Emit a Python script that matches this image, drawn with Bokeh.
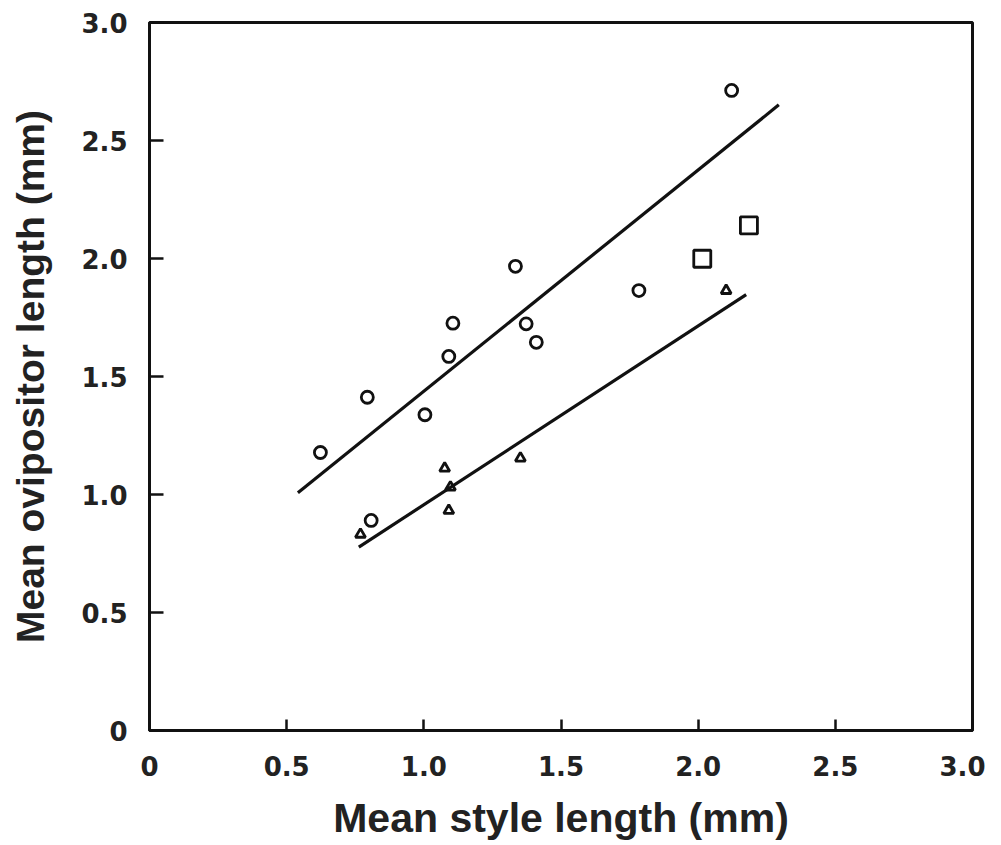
from bokeh.plotting import figure
from bokeh.models import Range1d, FixedTicker
from bokeh.embed import file_html
from bokeh.resources import INLINE

# Data
circle_x = [0.623, 0.794, 0.808, 1.004, 1.091, 1.106, 1.334, 1.373, 1.410, 1.784, 2.122]
circle_y = [1.178, 1.412, 0.890, 1.338, 1.585, 1.726, 1.967, 1.723, 1.645, 1.864, 2.712]
triangle_x = [0.769, 1.076, 1.097, 1.091, 1.352, 2.102]
triangle_y = [0.831, 1.111, 1.031, 0.932, 1.154, 1.864]
square_x = [2.015, 2.185]
square_y = [1.999, 2.140]
upper_line_x = [0.541, 2.294]
upper_line_y = [1.007, 2.651]
lower_line_x = [0.763, 2.175]
lower_line_y = [0.777, 1.847]
tick_values = [0, 0.5, 1.0, 1.5, 2.0, 2.5, 3.0]
tick_labels = {0: "0", 0.5: "0.5", 1.0: "1.0", 1.5: "1.5", 2.0: "2.0", 2.5: "2.5", 3.0: "3.0"}

p = figure(width=985, height=845, output_backend="svg", toolbar_location=None,
           x_range=Range1d(0, 3), y_range=Range1d(0, 3),
           min_border_left=149, min_border_right=13, min_border_top=22, min_border_bottom=115)
p.background_fill_color = "white"
p.border_fill_color = "white"
p.grid.visible = False
p.outline_line_color = "#111111"
p.outline_line_width = 3
p.outline_line_alpha = 1

for ax in (p.xaxis[0], p.yaxis[0]):
    ax.ticker = FixedTicker(ticks=tick_values)
    ax.major_label_overrides = tick_labels
    ax.minor_tick_line_color = None
    ax.major_tick_out = 0
    ax.axis_line_width = 3
    ax.axis_line_color = "#111111"
    ax.major_tick_line_width = 2.5
    ax.major_tick_line_color = "#111111"
    ax.major_label_text_font = "DejaVu Sans"
    ax.major_label_text_font_style = "bold"
    ax.major_label_text_font_size = "26px"
    ax.major_label_text_color = "#222222"
    ax.axis_label_text_font = "Liberation Sans"
    ax.axis_label_text_font_style = "bold"
    ax.axis_label_text_color = "#222222"

p.xaxis.axis_label_text_font_size = "41px"
p.yaxis.axis_label_text_font_size = "39px"
p.xaxis.major_tick_in = 11
p.yaxis.major_tick_in = 14
p.xaxis.major_label_standoff = 25
p.yaxis.major_label_standoff = 22
p.xaxis.axis_label = "Mean style length (mm)"
p.yaxis.axis_label = "Mean ovipositor length (mm)"
p.xaxis.axis_label_standoff = 16
p.yaxis.axis_label_standoff = 26

p.line(upper_line_x, upper_line_y, line_color="#111111", line_width=3.2)
p.line(lower_line_x, lower_line_y, line_color="#111111", line_width=3.2)
p.scatter(circle_x, circle_y, marker="circle", size=12, fill_color=None,
          line_color="#111111", line_width=2.8)
p.scatter(triangle_x, triangle_y, marker="triangle", size=10, fill_color=None,
          line_color="#111111", line_width=2.8)
p.scatter(square_x, square_y, marker="square", size=17, fill_color=None,
          line_color="#111111", line_width=2.8)

open("out.html", "w").write(file_html(p, INLINE))
